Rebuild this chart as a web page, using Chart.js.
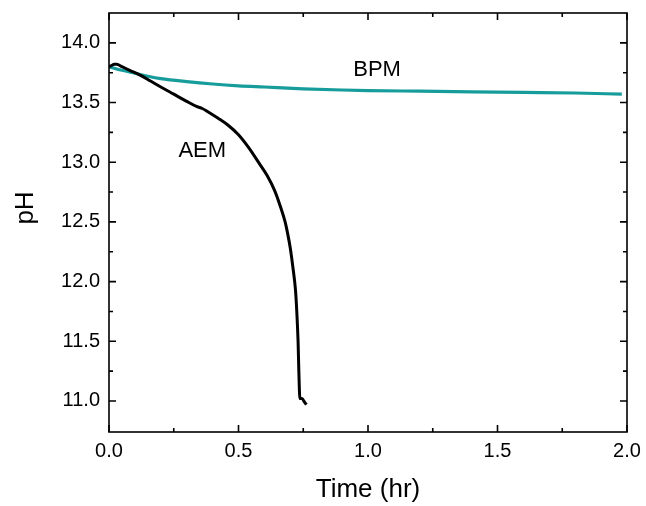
<!DOCTYPE html>
<html>
<head>
<meta charset="utf-8">
<script src="https://cdn.jsdelivr.net/npm/chart.js@4/dist/chart.umd.min.js"></script>
<style>
body{margin:0;background:#fff;}
</style>
</head>
<body>
<canvas id="chart" width="646" height="506"></canvas>
<script>
// AEM run (black)
const aemTime = [0, 0.01, 0.02, 0.03, 0.05, 0.08, 0.12, 0.16, 0.20, 0.25, 0.30, 0.34, 0.36, 0.38, 0.42, 0.46, 0.50, 0.54, 0.58, 0.61, 0.64, 0.66, 0.68, 0.69, 0.70, 0.71, 0.72, 0.725, 0.73, 0.733, 0.737, 0.745, 0.755, 0.762];
const aemPH   = [13.80, 13.81, 13.82, 13.82, 13.80, 13.77, 13.73, 13.68, 13.63, 13.57, 13.51, 13.465, 13.45, 13.425, 13.37, 13.31, 13.23, 13.12, 12.99, 12.89, 12.76, 12.64, 12.50, 12.40, 12.28, 12.12, 11.93, 11.75, 11.50, 11.25, 11.02, 11.02, 10.99, 10.97];

// BPM run (teal)
const bpmTime = [0, 0.05, 0.1, 0.15, 0.2, 0.3, 0.4, 0.5, 0.6, 0.75, 0.9, 1.0, 1.2, 1.4, 1.6, 1.8, 1.98];
const bpmPH   = [13.80, 13.77, 13.745, 13.72, 13.70, 13.675, 13.655, 13.64, 13.63, 13.615, 13.605, 13.60, 13.595, 13.59, 13.585, 13.58, 13.57];

// ticks
const xTicks = [0, 0.5, 1.0, 1.5, 2.0];
const xMinor = [0.25, 0.75, 1.25, 1.75];
const yTicks = [11.0, 11.5, 12.0, 12.5, 13.0, 13.5, 14.0];
const yMinor = [11.25, 11.75, 12.25, 12.75, 13.25, 13.75];

const FONT = "'Liberation Sans', Arial, sans-serif";

function toPoints(xs, ys){
    return xs.map((x,i) => ({x: x, y: ys[i]}));
}

// no extra label overflow padding, keep the plot box where it is
function noPad(s){
    s.paddingTop = 0; s.paddingBottom = 0;
    s.paddingLeft = 0; s.paddingRight = 0;
}

// frame, inward ticks, axis titles and curve labels
const framePlugin = {
    id: 'frame',
    afterDatasetsDraw(chart){
        const ctx = chart.ctx;
        const a = chart.chartArea;
        const xs = chart.scales.x, ys = chart.scales.y;
        ctx.save();
        ctx.strokeStyle = '#000';
        ctx.lineWidth = 1.6;
        ctx.strokeRect(a.left, a.top, a.right - a.left, a.bottom - a.top);
        ctx.beginPath();
        const tick = (vals, len) => {
            vals.forEach(v => {
                const px = xs.getPixelForValue(v);
                ctx.moveTo(px, a.bottom); ctx.lineTo(px, a.bottom - len);
                ctx.moveTo(px, a.top); ctx.lineTo(px, a.top + len);
            });
        };
        const tickY = (vals, len) => {
            vals.forEach(v => {
                const py = ys.getPixelForValue(v);
                ctx.moveTo(a.left, py); ctx.lineTo(a.left + len, py);
                ctx.moveTo(a.right, py); ctx.lineTo(a.right - len, py);
            });
        };
        tick(xTicks, 7); tick(xMinor, 4);
        tickY(yTicks, 7); tickY(yMinor, 4);
        ctx.stroke();

        ctx.fillStyle = '#000';
        ctx.textAlign = 'center';
        ctx.textBaseline = 'middle';
        ctx.font = '26px ' + FONT;
        ctx.fillText('Time (hr)', (a.left + a.right) / 2, 490);
        ctx.save();
        ctx.translate(26, 208);
        ctx.rotate(-Math.PI / 2);
        ctx.fillText('pH', 0, 0);
        ctx.restore();

        ctx.font = '22px ' + FONT;
        ctx.fillText('BPM', xs.getPixelForValue(1.035), ys.getPixelForValue(13.775));
        ctx.fillText('AEM', xs.getPixelForValue(0.36), ys.getPixelForValue(13.095));
        ctx.restore();
    }
};

new Chart(document.getElementById('chart'), {
    type: 'line',
    data: {
        datasets: [{
            label: 'AEM',
            data: toPoints(aemTime, aemPH),
            borderColor: '#000000',
            borderWidth: 3,
            pointRadius: 0,
            cubicInterpolationMode: 'monotone'
        },{
            label: 'BPM',
            data: toPoints(bpmTime, bpmPH),
            borderColor: '#179c9c',
            borderWidth: 3.2,
            pointRadius: 0,
            cubicInterpolationMode: 'monotone'
        }]
    },
    options: {
        responsive: false,
        animation: false,
        layout: {padding: {top: 13, right: 19, left: 0, bottom: 0}},
        plugins: {legend: {display: false}, tooltip: {enabled: false}},
        scales: {
            x: {
                type: 'linear',
                min: 0, max: 2,
                grid: {display: false, drawTicks: false},
                border: {display: false},
                afterBuildTicks: s => { s.ticks = xTicks.map(v => ({value: v})); },
                afterFit: s => { s.height = 74; noPad(s); },
                ticks: {
                    color: '#000',
                    font: {family: FONT, size: 20},
                    padding: 7,
                    maxRotation: 0,
                    callback: v => v.toFixed(1)
                }
            },
            y: {
                type: 'linear',
                min: 10.74, max: 14.25,
                grid: {display: false, drawTicks: false},
                border: {display: false},
                afterBuildTicks: s => { s.ticks = yTicks.map(v => ({value: v})); },
                afterFit: s => { s.width = 109; noPad(s); },
                ticks: {
                    color: '#000',
                    font: {family: FONT, size: 20},
                    padding: 9,
                    callback: v => v.toFixed(1)
                }
            }
        }
    },
    plugins: [framePlugin]
});
</script>
</body>
</html>
